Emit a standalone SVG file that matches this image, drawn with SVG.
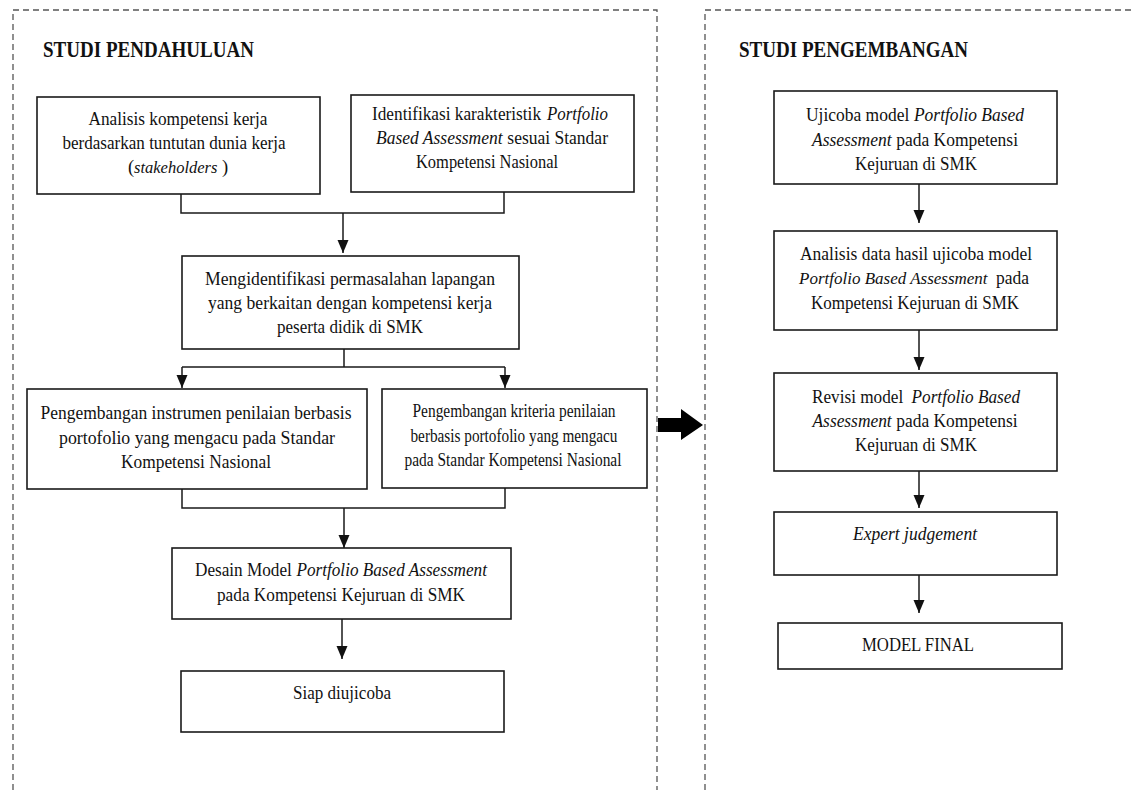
<svg xmlns="http://www.w3.org/2000/svg" width="1133" height="790" viewBox="0 0 1133 790">
<style>
.panel{fill:none;stroke:#555;stroke-width:1.3;stroke-dasharray:6,4}
.box{fill:#fff;stroke:#1a1a1a;stroke-width:1.6}
.t{font-family:"Liberation Serif","Times New Roman",serif;font-size:18.5px;fill:#111;text-anchor:middle}
.s{text-anchor:start}
.i{font-style:italic}
.title{font-family:"Liberation Serif","Times New Roman",serif;font-size:23px;font-weight:bold;fill:#111}
.c{fill:none;stroke:#1a1a1a;stroke-width:1.5}
</style>
<rect width="1133" height="790" fill="#fff"/>
<g id="panels">
<path class="panel" d="M13,790 V10 H657 V790"/>
<path class="panel" d="M705,790 V10 H1133"/>
<text class="title" x="43" y="57" textLength="211" lengthAdjust="spacingAndGlyphs">STUDI PENDAHULUAN</text>
<text class="title" x="739" y="57" textLength="229" lengthAdjust="spacingAndGlyphs">STUDI PENGEMBANGAN</text>
</g>
<g id="big-arrow">
<polygon points="658,418 681,418 681,409 703,425 681,440 681,432 658,432" fill="#000"/>
</g>
<g id="connectors">
<path class="c" d="M181,194 V213 H504 V192"/>
<path class="c" d="M343,213 V253"/>
<path d="M337.5,240 L348.5,240 L343,253 z" fill="#111"/>
<path class="c" d="M344,349 V367 M182,367 H505"/>
<path class="c" d="M182,367 V388"/>
<path d="M176.5,375 L187.5,375 L182,388 z" fill="#111"/>
<path class="c" d="M505,367 V388"/>
<path d="M499.5,375 L510.5,375 L505,388 z" fill="#111"/>
<path class="c" d="M182,489 V508 H505 V488 M344,508 V548"/>
<path d="M338.5,535 L349.5,535 L344,548 z" fill="#111"/>
<path class="c" d="M342,619 V659"/>
<path d="M336.5,646 L347.5,646 L342,659 z" fill="#111"/>
<path class="c" d="M919,184 V223"/>
<path d="M913.5,210 L924.5,210 L919,223 z" fill="#111"/>
<path class="c" d="M919,330 V370"/>
<path d="M913.5,357 L924.5,357 L919,370 z" fill="#111"/>
<path class="c" d="M919,471 V508"/>
<path d="M913.5,495 L924.5,495 L919,508 z" fill="#111"/>
<path class="c" d="M919,575 V613"/>
<path d="M913.5,600 L924.5,600 L919,613 z" fill="#111"/>
</g>
<g id="n1">
<rect class="box" x="37" y="97" width="283" height="97"/>
<text class="t" x="178" y="125" textLength="179" lengthAdjust="spacingAndGlyphs">Analisis kompetensi kerja</text>
<text class="t" x="174" y="149" textLength="223" lengthAdjust="spacingAndGlyphs">berdasarkan tuntutan dunia kerja</text>
<text class="t s" x="128" y="173">(</text>
<text class="t s i" x="134" y="173" style="font-size:16.5px">stakeholders</text>
<text class="t s" x="222" y="173">)</text>
</g>
<g id="n2">
<rect class="box" x="351" y="95" width="283" height="97"/>
<text class="t s" x="372" y="120" textLength="169" lengthAdjust="spacingAndGlyphs">Identifikasi karakteristik</text>
<text class="t s i" x="547" y="120" textLength="61" lengthAdjust="spacingAndGlyphs">Portfolio</text>
<text class="t" x="492" y="144" textLength="232" lengthAdjust="spacingAndGlyphs"><tspan class="i">Based Assessment</tspan><tspan dx="5">sesuai Standar</tspan></text>
<text class="t" x="487" y="168" textLength="142" lengthAdjust="spacingAndGlyphs">Kompetensi Nasional</text>
</g>
<g id="n3">
<rect class="box" x="182" y="256" width="337" height="93"/>
<text class="t" x="350" y="285" textLength="290" lengthAdjust="spacingAndGlyphs">Mengidentifikasi permasalahan lapangan</text>
<text class="t" x="350" y="309" textLength="284" lengthAdjust="spacingAndGlyphs">yang berkaitan dengan kompetensi kerja</text>
<text class="t" x="350" y="333" textLength="146" lengthAdjust="spacingAndGlyphs">peserta didik di SMK</text>
</g>
<g id="n4">
<rect class="box" x="27" y="389" width="340" height="100"/>
<text class="t" x="196" y="419" textLength="311" lengthAdjust="spacingAndGlyphs">Pengembangan instrumen penilaian berbasis</text>
<text class="t" x="197" y="444" textLength="276" lengthAdjust="spacingAndGlyphs">portofolio yang mengacu pada Standar</text>
<text class="t" x="196" y="468" textLength="150" lengthAdjust="spacingAndGlyphs">Kompetensi Nasional</text>
</g>
<g id="n5">
<rect class="box" x="382" y="389" width="265" height="99"/>
<text class="t" x="514" y="417" textLength="203" lengthAdjust="spacingAndGlyphs">Pengembangan kriteria penilaian</text>
<text class="t" x="514" y="442" textLength="207" lengthAdjust="spacingAndGlyphs">berbasis portofolio yang mengacu</text>
<text class="t" x="513" y="466" textLength="217" lengthAdjust="spacingAndGlyphs">pada Standar Kompetensi Nasional</text>
</g>
<g id="n6">
<rect class="box" x="172" y="548" width="339" height="71"/>
<text class="t" x="341" y="576" textLength="292" lengthAdjust="spacingAndGlyphs">Desain Model<tspan class="i" dx="5">Portfolio Based Assessment</tspan></text>
<text class="t" x="341" y="601" textLength="248" lengthAdjust="spacingAndGlyphs">pada Kompetensi Kejuruan di SMK</text>
</g>
<g id="n7">
<rect class="box" x="181" y="671" width="323" height="61"/>
<text class="t" x="342" y="699" textLength="98" lengthAdjust="spacingAndGlyphs">Siap diujicoba</text>
</g>
<g id="r1">
<rect class="box" x="774" y="91" width="283" height="93"/>
<text class="t" x="915" y="121" textLength="218" lengthAdjust="spacingAndGlyphs">Ujicoba model<tspan class="i" dx="5">Portfolio Based</tspan></text>
<text class="t" x="915" y="146" textLength="206" lengthAdjust="spacingAndGlyphs"><tspan class="i">Assessment</tspan><tspan dx="5">pada Kompetensi</tspan></text>
<text class="t" x="916" y="170" textLength="122" lengthAdjust="spacingAndGlyphs">Kejuruan di SMK</text>
</g>
<g id="r2">
<rect class="box" x="774" y="231" width="283" height="99"/>
<text class="t" x="916" y="260" textLength="232" lengthAdjust="spacingAndGlyphs">Analisis data hasil ujicoba model</text>
<text class="t s i" x="799" y="284" style="font-size:17px">Portfolio Based Assessment</text>
<text class="t s" x="996" y="284" textLength="33" lengthAdjust="spacingAndGlyphs">pada</text>
<text class="t" x="915" y="309" textLength="208" lengthAdjust="spacingAndGlyphs">Kompetensi Kejuruan di SMK</text>
</g>
<g id="r3">
<rect class="box" x="774" y="373" width="283" height="98"/>
<text class="t" x="916" y="403" textLength="208" lengthAdjust="spacingAndGlyphs">Revisi model<tspan class="i" dx="9">Portfolio Based</tspan></text>
<text class="t" x="915" y="427" textLength="205" lengthAdjust="spacingAndGlyphs"><tspan class="i">Assessment</tspan><tspan dx="5">pada Kompetensi</tspan></text>
<text class="t" x="916" y="451" textLength="122" lengthAdjust="spacingAndGlyphs">Kejuruan di SMK</text>
</g>
<g id="r4">
<rect class="box" x="774" y="512" width="283" height="63"/>
<text class="t i" x="915" y="540" textLength="124" lengthAdjust="spacingAndGlyphs">Expert judgement</text>
</g>
<g id="r5">
<rect class="box" x="778" y="623" width="284" height="46"/>
<text class="t" x="918" y="651" textLength="112" lengthAdjust="spacingAndGlyphs">MODEL  FINAL</text>
</g>
</svg>
